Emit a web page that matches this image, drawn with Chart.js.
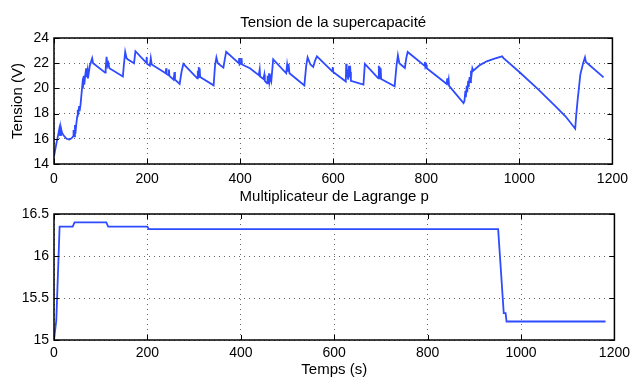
<!DOCTYPE html>
<html>
<head>
<meta charset="utf-8">
<script src="https://cdn.jsdelivr.net/npm/chart.js@4/dist/chart.umd.min.js"></script>
<style>
  html, body { margin: 0; padding: 0; background: #fff; }
  body { width: 635px; height: 378px; position: relative; overflow: hidden; }
  canvas { position: absolute; left: 0; }
  #c1 { top: 0; }
  #c2 { top: 178px; }
</style>
</head>
<body>
<canvas id="c1" width="635" height="190"></canvas>
<canvas id="c2" width="635" height="200"></canvas>
<script>
// ---------- data ----------
const timeTension = [
  0, 5, 10, 11.5, 13, 15, 17, 20, 27, 33, 38, 41, 42, 43, 45, 46, 48, 50, 51, 52, 54, 55, 57, 59, 61, 62, 64, 65, 67, 69, 70, 72, 73, 75, 77, 82, 84,
  110, 111, 113, 115, 117, 119, 148, 150, 153, 156, 159, 172, 175, 198, 199, 200, 206, 208, 210,
  240, 241, 242, 246, 247, 248, 257, 259, 260, 270, 274, 278, 308, 309, 310, 311, 312, 313, 314,
  343, 346, 349, 352, 364, 367, 370, 397, 398, 399, 402, 403, 404, 421,
  440, 442, 443, 450, 452, 453, 458, 459, 460, 462, 463, 465, 467, 471, 499, 501, 503, 504, 506,
  538, 542, 545, 551, 557, 561, 565, 598, 599, 600, 627, 628, 629, 631, 632, 634, 635, 637, 638,
  665, 668, 697, 698, 699, 700, 701, 702, 703, 732, 736, 739, 742, 754, 757, 760,
  796, 797, 798, 800, 801, 844, 845, 846, 848, 849, 880, 882, 884, 885, 887, 888, 890, 891, 893, 894, 896, 897, 899, 901,
  915, 930, 945, 963, 966, 1000, 1040, 1080, 1100, 1120, 1122, 1125, 1131, 1137, 1141, 1143, 1181
];
const tension = [
  14.6, 15.6, 16.5, 16.8, 16.3, 16.85, 16.5, 16.3, 16.0, 15.95, 16.05, 16.2, 16.7, 16.2, 17.1, 16.4, 17.2, 17.8, 18.3, 17.9, 18.6, 18.2, 18.7, 19.5, 20.3, 20.0, 21.0, 20.3, 21.0, 21.6, 20.9, 21.4, 20.8, 21.3, 21.8, 22.4, 22.0,
  21.25, 21.5, 22.5, 21.8, 22.0, 21.6, 20.95, 21.8, 22.9, 22.4, 22.3, 22.0, 22.95, 22.05, 22.5, 21.95, 21.8, 22.4, 21.9,
  21.2, 21.6, 21.15, 21.05, 21.5, 21.0, 20.7, 21.3, 20.7, 20.35, 21.3, 21.95, 20.8, 21.4, 20.9, 21.7, 21.0, 21.6, 20.9,
  20.24, 21.8, 22.45, 22.0, 21.65, 22.3, 22.9, 22.0, 22.4, 21.9, 22.0, 22.4, 21.9, 21.6,
  21.05, 21.5, 20.95, 20.75, 21.1, 20.6, 20.4, 21.0, 20.45, 21.2, 20.5, 20.9, 20.6, 22.3, 21.2, 21.9, 21.4, 21.95, 21.2,
  20.24, 21.8, 22.46, 21.9, 21.7, 22.2, 22.54, 21.35, 21.7, 21.3, 20.55, 21.95, 20.9, 21.5, 20.7, 21.8, 20.9, 21.3, 20.6,
  20.3, 21.94, 20.8, 21.8, 20.9, 21.7, 20.8, 21.6, 20.75, 20.16, 21.8, 22.62, 22.0, 21.62, 22.4, 22.89,
  21.8, 22.1, 21.7, 21.85, 21.6, 20.35, 20.8, 20.3, 20.7, 20.2, 18.84, 19.0, 19.8, 19.3, 20.2, 19.7, 20.6, 20.1, 20.9, 20.5, 21.4, 21.0, 21.6, 21.4,
  21.85, 22.15, 22.35, 22.54, 22.4, 21.3, 19.95, 18.5, 17.75, 16.8, 17.8, 19.0, 21.1, 22.0, 22.46, 22.1, 20.87
];
const timeLagrange = [0, 2, 5, 12, 40, 44, 112, 116, 200, 203, 951, 963, 967, 969, 1181];
const lagrange     = [15.0, 15.0, 15.24, 16.35, 16.35, 16.4, 16.4, 16.35, 16.35, 16.32, 16.32, 15.32, 15.32, 15.22, 15.22];

const xTicks = [0, 200, 400, 600, 800, 1000, 1200];
const yTicksTension = [14, 16, 18, 20, 22, 24];
const yTicksLagrange = [15, 15.5, 16, 16.5];

const titleTop = 'Tension de la supercapacité';
const titleBottom = 'Multiplicateur de Lagrange p';
const yLabelTop = 'Tension (V)';
const xLabelBottom = 'Temps (s)';

// ---------- helpers ----------
const FONT = '"Liberation Sans", Arial, Helvetica, sans-serif';
const LINE_COLOR = '#2f4bff';

const matlabBox = {
  id: 'matlabBox',
  afterDatasetsDraw(chart) {
    const { ctx, chartArea: a, scales: { x, y } } = chart;
    const L = 5;
    ctx.save();
    ctx.strokeStyle = '#000';
    ctx.lineWidth = 1;
    ctx.beginPath();
    x.ticks.forEach(t => {
      const px = Math.round(x.getPixelForValue(t.value)) + 0.5;
      ctx.moveTo(px, a.bottom); ctx.lineTo(px, a.bottom - L);
      ctx.moveTo(px, a.top); ctx.lineTo(px, a.top + L);
    });
    y.ticks.forEach(t => {
      const py = Math.round(y.getPixelForValue(t.value)) + 0.5;
      ctx.moveTo(a.left, py); ctx.lineTo(a.left + L, py);
      ctx.moveTo(a.right, py); ctx.lineTo(a.right - L, py);
    });
    ctx.stroke();
    ctx.lineWidth = 1.5;
    ctx.strokeRect(a.left, a.top, a.right - a.left, a.bottom - a.top);
    ctx.restore();
  }
};

function fixedTicks(list) {
  return function (scale) {
    scale.ticks = list.map(v => ({ value: v }));
  };
}

const GRID = { color: 'rgba(0,0,0,0.6)', lineWidth: 1, drawTicks: false };
const BORDER = { display: false, dash: [1, 4] };

function makeChart(id, times, values, cfg) {
  const pts = times.map((t, i) => ({ x: t, y: values[i] }));
  return new Chart(document.getElementById(id), {
    type: 'line',
    data: {
      datasets: [{
        data: pts,
        borderColor: LINE_COLOR,
        borderWidth: 1.8,
        pointRadius: 0,
        tension: 0,
        fill: false
      }]
    },
    options: {
      responsive: false,
      animation: false,
      devicePixelRatio: 1,
      layout: { padding: { left: 0, right: 18, top: 0, bottom: 0 } },
      plugins: {
        legend: { display: false },
        tooltip: { enabled: false },
        title: {
          display: true,
          fullSize: false,
          text: cfg.title,
          color: '#000',
          font: { family: FONT, size: 15, weight: 'normal', lineHeight: 1.2 },
          padding: cfg.titlePadding
        }
      },
      scales: {
        x: {
          type: 'linear',
          min: 0, max: 1200,
          afterBuildTicks: fixedTicks(xTicks),
          afterFit(s) { s.height = cfg.xHeight; },
          border: BORDER,
          grid: GRID,
          ticks: {
            color: '#000', padding: cfg.xTickPad, maxRotation: 0, autoSkip: false,
            font: { family: FONT, size: 14 },
            callback: v => String(v)
          },
          title: cfg.xTitle ? {
            display: true, text: cfg.xTitle, color: '#000',
            font: { family: FONT, size: 15, lineHeight: 1.1 },
            padding: { top: 0, bottom: 0 }
          } : { display: false }
        },
        y: {
          type: 'linear',
          min: cfg.yMin, max: cfg.yMax,
          afterBuildTicks: fixedTicks(cfg.yTicks),
          afterFit(s) { s.width = 54; },
          border: BORDER,
          grid: GRID,
          ticks: {
            color: '#000', padding: 5, autoSkip: false,
            font: { family: FONT, size: 14 },
            callback: v => String(v)
          },
          title: cfg.yTitle ? {
            display: true, text: cfg.yTitle, color: '#000',
            font: { family: FONT, size: 15, lineHeight: 1.2 },
            padding: { top: 9, bottom: 0 }
          } : { display: false }
        }
      }
    },
    plugins: [matlabBox]
  });
}

makeChart('c1', timeTension, tension, {
  title: titleTop,
  titlePadding: { top: 14, bottom: 6 },
  xHeight: 26, xTickPad: 7,
  yMin: 14, yMax: 24, yTicks: yTicksTension,
  yTitle: yLabelTop
});

makeChart('c2', timeLagrange, lagrange, {
  title: titleBottom,
  titlePadding: { top: 10, bottom: 8 },
  xHeight: 38, xTickPad: 5,
  yMin: 15, yMax: 16.5, yTicks: yTicksLagrange,
  xTitle: xLabelBottom
});
</script>
</body>
</html>
